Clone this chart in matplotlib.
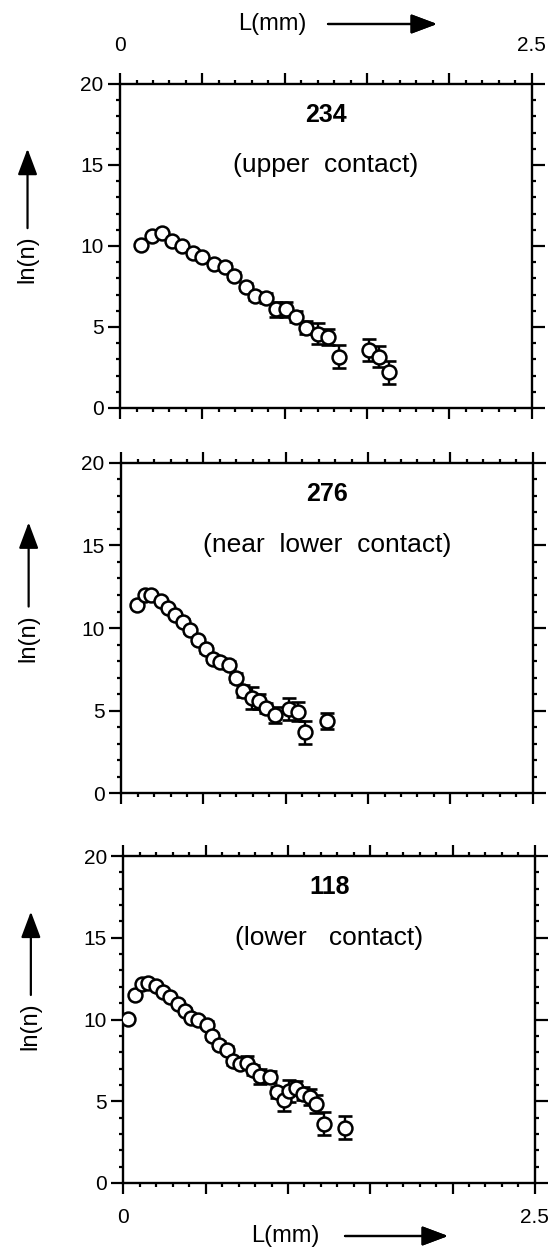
import matplotlib.pyplot as plt
from matplotlib.ticker import MultipleLocator, FixedFormatter, FixedLocator

plt.rcParams['font.family'] = ['Liberation Sans', 'DejaVu Sans']

# crystal size distributions, ln(population density) vs crystal length
L_234 = [0.124, 0.193, 0.254, 0.315, 0.376, 0.443, 0.500, 0.569, 0.636, 0.693,
         0.764, 0.819, 0.884, 0.945, 1.006, 1.067, 1.132, 1.201, 1.262, 1.331,
         1.510, 1.575, 1.632]
lnn_234 = [10.04, 10.60, 10.78, 10.30, 10.00, 9.59, 9.30, 8.90, 8.72, 8.17,
           7.49, 6.91, 6.77, 6.09, 6.09, 5.64, 4.96, 4.57, 4.40, 3.17,
           3.58, 3.17, 2.20]
err_234 = [0.10, 0.10, 0.10, 0.10, 0.10, 0.15, 0.15, 0.15, 0.20, 0.20,
           0.20, 0.25, 0.30, 0.45, 0.45, 0.35, 0.40, 0.65, 0.50, 0.70,
           0.70, 0.65, 0.70]

L_276 = [0.096, 0.143, 0.184, 0.239, 0.282, 0.327, 0.378, 0.419, 0.464, 0.517,
         0.556, 0.599, 0.658, 0.699, 0.742, 0.797, 0.838, 0.879, 0.934, 1.022,
         1.074, 1.114, 1.253]
lnn_276 = [11.37, 12.03, 12.03, 11.65, 11.24, 10.78, 10.37, 9.85, 9.27, 8.71,
           8.15, 7.97, 7.74, 7.00, 6.18, 5.76, 5.56, 5.14, 4.73, 5.08,
           4.93, 3.67, 4.36]
err_276 = [0.10, 0.10, 0.10, 0.10, 0.10, 0.10, 0.15, 0.15, 0.15, 0.20,
           0.20, 0.20, 0.25, 0.30, 0.35, 0.68, 0.45, 0.30, 0.47, 0.67,
           0.57, 0.67, 0.48]

L_118 = [0.029, 0.070, 0.110, 0.151, 0.198, 0.239, 0.280, 0.331, 0.372, 0.413,
         0.453, 0.505, 0.539, 0.580, 0.627, 0.668, 0.708, 0.750, 0.790, 0.831,
         0.892, 0.933, 0.974, 1.004, 1.051, 1.090, 1.131, 1.172, 1.219, 1.347]
lnn_118 = [10.06, 11.47, 12.20, 12.25, 12.08, 11.67, 11.39, 10.96, 10.55, 10.10,
           10.00, 9.69, 8.98, 8.47, 8.16, 7.45, 7.30, 7.35, 6.90, 6.53,
           6.49, 5.55, 5.10, 5.61, 5.82, 5.47, 5.27, 4.84, 3.63, 3.37]
err_118 = [0.10, 0.10, 0.10, 0.10, 0.10, 0.10, 0.10, 0.15, 0.15, 0.15,
           0.15, 0.20, 0.20, 0.20, 0.20, 0.25, 0.25, 0.40, 0.30, 0.45,
           0.35, 0.35, 0.70, 0.67, 0.40, 0.40, 0.50, 0.56, 0.70, 0.70]

sample_ids = ["234", "276", "118"]
positions = ["(upper  contact)", "(near  lower  contact)", "(lower   contact)"]
x_tick_labels = ["0", "", "", "", "", "2.5"]

panels = [
    (L_234, lnn_234, err_234),
    (L_276, lnn_276, err_276),
    (L_118, lnn_118, err_118),
]

# axes boxes in figure fractions: left, bottom, width, height
boxes = [
    (0.216, 0.6744, 0.740, 0.2586),
    (0.218, 0.3671, 0.740, 0.2634),
    (0.222, 0.0559, 0.740, 0.2609),
]
# y (axes fraction) of arrow tip, arrow tail and ln(n) label centre
ylab_pos = [(0.80, 0.555, 0.46), (0.82, 0.565, 0.47), (0.83, 0.575, 0.48)]

fig = plt.figure(figsize=(5.56, 12.53), dpi=100)

arrow_kw = dict(arrowstyle='-|>,head_length=0.8,head_width=0.3', lw=1.6,
                color='black', shrinkA=0, shrinkB=0, mutation_scale=20)

for i, (L, lnn, err) in enumerate(panels):
    ax = fig.add_axes(boxes[i])
    ax.errorbar(L, lnn, yerr=err, fmt='none', ecolor='black', elinewidth=1.7,
                capsize=5, capthick=1.9, zorder=2)
    ax.plot(L, lnn, 'o', ms=10, mfc='white', mec='black', mew=1.8, zorder=3)

    ax.set_xlim(0, 2.5)
    ax.set_ylim(0, 20)
    ax.xaxis.set_major_locator(FixedLocator([0, 0.5, 1.0, 1.5, 2.0, 2.5]))
    ax.xaxis.set_minor_locator(MultipleLocator(0.1))
    ax.yaxis.set_major_locator(MultipleLocator(5))
    ax.yaxis.set_minor_locator(MultipleLocator(1))
    ax.xaxis.set_major_formatter(FixedFormatter(x_tick_labels))

    for sp in ax.spines.values():
        sp.set_linewidth(1.7)

    ax.tick_params(axis='both', which='both', direction='out', width=1.6,
                   top=True, right=True, labelsize=15)
    ax.tick_params(axis='x', which='major', length=8)
    ax.tick_params(axis='x', which='minor', length=3)
    ax.tick_params(axis='y', which='major', length=9, pad=3)
    ax.tick_params(axis='y', which='minor', length=3)

    if i == 0:
        ax.tick_params(axis='x', labelbottom=False, labeltop=True, pad=13)
    elif i == 1:
        ax.tick_params(axis='x', labelbottom=False, labeltop=False)
    else:
        ax.tick_params(axis='x', labelbottom=True, labeltop=False, pad=10)

    ax.text(0.5, 0.905, sample_ids[i], transform=ax.transAxes, ha='center',
            va='center', fontsize=18, fontweight='bold')
    ax.text(0.5, 0.75, positions[i], transform=ax.transAxes, ha='center',
            va='center', fontsize=19)

    tip, tail, lab = ylab_pos[i]
    ax.annotate('', xy=(-0.225, tip), xytext=(-0.225, tail),
                xycoords='axes fraction', arrowprops=arrow_kw,
                annotation_clip=False)
    ax.text(-0.225, lab, 'ln(n)', transform=ax.transAxes, rotation=90,
            ha='center', va='center', fontsize=17)

# L(mm) axis titles with arrows, top and bottom
fig.text(272 / 556, 1 - 24 / 1253, 'L(mm)', ha='center', va='center', fontsize=17)
fig.add_artist(plt.annotate('', xy=(437 / 556, 1 - 24 / 1253),
                            xytext=(328 / 556, 1 - 24 / 1253),
                            xycoords='figure fraction', arrowprops=arrow_kw))
fig.text(285 / 556, 1 - 1236 / 1253, 'L(mm)', ha='center', va='center', fontsize=17)
fig.add_artist(plt.annotate('', xy=(448 / 556, 1 - 1236 / 1253),
                            xytext=(345 / 556, 1 - 1236 / 1253),
                            xycoords='figure fraction', arrowprops=arrow_kw))

fig.savefig('out.png', dpi=100)
